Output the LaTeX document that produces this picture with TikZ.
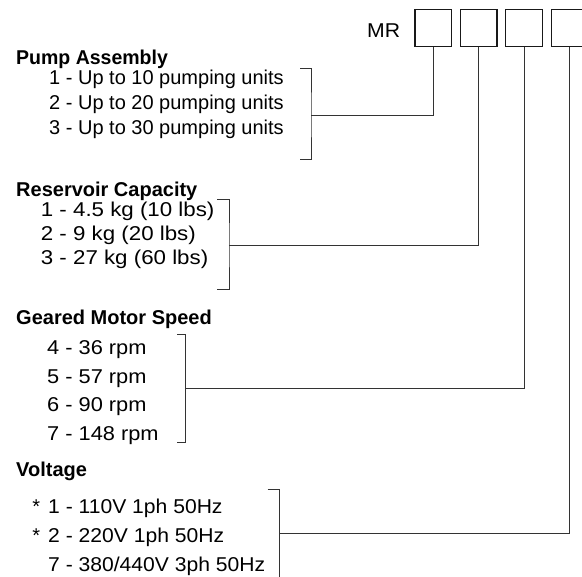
\documentclass[tikz,border=0pt]{standalone}
\usepackage{fontspec}
\usepackage{graphicx}
\setmainfont{Liberation Sans}
\newcommand\hsc[2]{\scalebox{#1}[1]{#2}}
\begin{document}
\begin{tikzpicture}[x=1pt,y=-1pt,
  txt/.style={anchor=base west,inner sep=0pt,font=\fontsize{20}{24}\selectfont},
  head/.style={txt,font=\fontsize{20}{24}\selectfont\bfseries},
  digitbox/.style={draw=black!90,line width=1.2pt,minimum size=36.5pt,inner sep=0pt},
  conn/.style={draw=black!80,line width=1pt}]
\path[use as bounding box,clip] (0,0) rectangle (582,577);
% code boxes
\node[txt] (mr) at (367,37.5) {\hsc{1.06}{MR}};
\node[digitbox] (b1) at (433.3,28) {};
\node[digitbox] (b2) at (478.7,28) {};
\node[digitbox] (b3) at (524,28) {};
\node[digitbox] (b4) at (569.5,28) {};
% Pump assembly
\node[head] (h1) at (16,65) {\hsc{0.975}{Pump Assembly}};
\node[txt] (p1) at (49,84.5) {1 - Up to 10 pumping units};
\node[txt] (p2) at (49,109.3) {2 - Up to 20 pumping units};
\node[txt] (p3) at (49,134.3) {3 - Up to 30 pumping units};
% Reservoir
\node[head] (h2) at (16,196.7) {Reservoir Capacity};
\node[txt] (r1) at (40.7,216.7) {\hsc{1.115}{1 - 4.5 kg (10 lbs)}};
\node[txt] (r2) at (40.7,240.7) {\hsc{1.115}{2 - 9 kg (20 lbs)}};
\node[txt] (r3) at (40.7,265) {\hsc{1.115}{3 - 27 kg (60 lbs)}};
% Geared motor
\node[head] (h3) at (16,324.3) {Geared Motor Speed};
\node[txt] (g1) at (47,355) {\hsc{1.09}{4 - 36 rpm}};
\node[txt] (g2) at (47,384) {\hsc{1.09}{5 - 57 rpm}};
\node[txt] (g3) at (47,412) {\hsc{1.09}{6 - 90 rpm}};
\node[txt] (g4) at (47,440.5) {\hsc{1.09}{7 - 148 rpm}};
% Voltage
\node[head] (h4) at (16,477) {Voltage};
\node[txt] (v1) at (48,514) {\llap{*\hspace{8pt}}\hsc{1.055}{1 - 110V 1ph 50Hz}};
\node[txt] (v2) at (48,543) {\llap{*\hspace{8pt}}\hsc{1.055}{2 - 220V 1ph 50Hz}};
\node[txt] (v3) at (48,571.7) {\hsc{1.055}{7 - 380/440V 3ph 50Hz}};
% brackets
\coordinate (pa) at (300,69);   \coordinate (pb) at (300,159.3);
\coordinate (pm) at (311,115.7);
\draw[conn] (pa) -| (pm) |- (pb);
\draw[conn] (pm) -| (b1.south);
\coordinate (ra) at (217,200);  \coordinate (rb) at (217,290);
\coordinate (rm) at (229,245.7);
\draw[conn] (ra) -| (rm) |- (rb);
\draw[conn] (rm) -| (b2.south);
\coordinate (ga) at (177.3,334.3); \coordinate (gb) at (177.3,442.7);
\coordinate (gm) at (185.3,388.5);
\draw[conn] (ga) -| (gm) |- (gb);
\draw[conn] (gm) -| (b3.south);
\coordinate (va) at (267.7,490); \coordinate (vb) at (279,582);
\coordinate (vm) at (279,534);
\draw[conn] (va) -| (vb);
\draw[conn] (vm) -| (b4.south);
\end{tikzpicture}
\end{document}
